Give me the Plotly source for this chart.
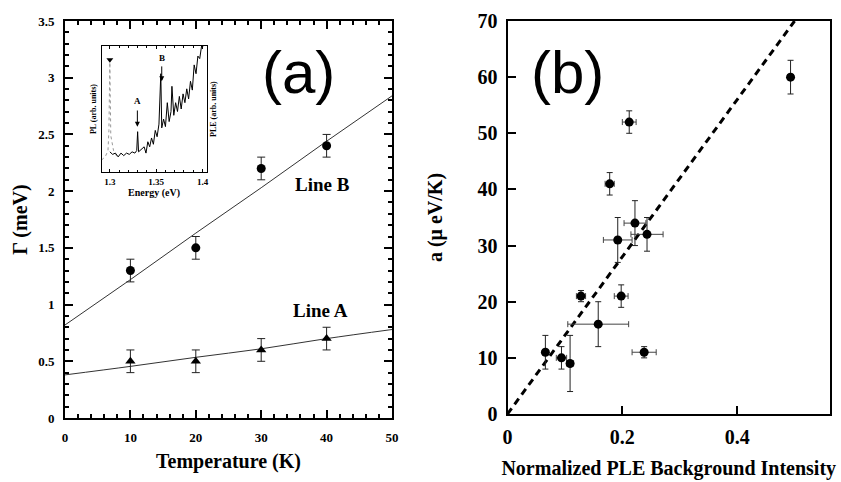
import plotly.graph_objects as go

# ---------------- Panel (a) data ----------------
temp = [10, 20, 30, 40]
gamma_B = [1.3, 1.5, 2.2, 2.4]
err_B = [0.1, 0.1, 0.1, 0.1]
gamma_A = [0.5, 0.5, 0.6, 0.7]
err_A = [0.1, 0.1, 0.1, 0.1]
fit_T = [0, 10, 20, 30, 40, 50]
fit_B = [0.82, 1.22, 1.63, 2.03, 2.44, 2.84]
fit_A = [0.38, 0.455, 0.535, 0.61, 0.70, 0.78]

# ---------------- Inset data ----------------
pl_E = [1.291, 1.295, 1.298, 1.299, 1.2995, 1.300, 1.3005, 1.301, 1.302, 1.304, 1.307, 1.310]
pl_I = [0.095, 0.12, 0.17, 0.33, 0.60, 0.87, 0.60, 0.29, 0.25, 0.17, 0.13, 0.12]
ple_E = [1.300, 1.303, 1.306, 1.309, 1.312, 1.315, 1.318, 1.321, 1.324, 1.327, 1.329,
         1.330, 1.331, 1.334, 1.337, 1.339, 1.341, 1.343, 1.345, 1.347, 1.349, 1.351,
         1.353, 1.355, 1.356, 1.358, 1.360, 1.362, 1.364, 1.366, 1.367, 1.369, 1.371,
         1.373, 1.375, 1.377, 1.379, 1.381, 1.383, 1.385, 1.387, 1.389, 1.391, 1.393,
         1.395, 1.397, 1.399, 1.401]
ple_I = [0.16, 0.14, 0.15, 0.12, 0.15, 0.13, 0.15, 0.14, 0.16, 0.15, 0.17,
         0.32, 0.16, 0.18, 0.20, 0.15, 0.24, 0.20, 0.27, 0.22, 0.33, 0.28,
         0.38, 0.78, 0.35, 0.42, 0.36, 0.55, 0.40, 0.48, 0.68, 0.45, 0.55,
         0.48, 0.60, 0.50, 0.62, 0.55, 0.66, 0.58, 0.72, 0.65, 0.85, 0.78,
         0.92, 0.90, 1.00, 1.00]
inset_xticks = [1.3, 1.35, 1.4]
inset_xtext = ["1.3", "1.35", "1.4"]

# ---------------- Panel (b) data ----------------
bg = [0.066, 0.094, 0.109, 0.128, 0.158, 0.178, 0.192, 0.198, 0.212, 0.222, 0.243, 0.238, 0.493]
a_val = [11, 10, 9, 21, 16, 41, 31, 21, 52, 34, 32, 11, 60]
bg_err = [0.004, 0.009, 0.006, 0.008, 0.053, 0.008, 0.025, 0.012, 0.012, 0.019, 0.028, 0.021, 0.005]
a_err = [3, 2, 5, 1, 4, 2, 4, 2, 2, 4, 3, 1, 3]
fit_bg = [0, 0.5]
fit_a = [0, 70]

a_yticks = [0, 0.5, 1, 1.5, 2, 2.5, 3, 3.5]
a_ytext = ["0", "0.5", "1", "1.5", "2", "2.5", "3", "3.5"]
b_xticks = [0, 0.2, 0.4]
b_xtext = ["0", "0.2", "0.4"]

SERIF = "Liberation Serif"
SANS = "Liberation Sans"
W, H = 841, 482

def px_x(p):
    return p / W

def px_y(p):
    return 1 - p / H

fig = go.Figure()

# Panel (a)
fig.add_trace(go.Scatter(x=fit_T, y=fit_B, mode="lines", line=dict(color="#333", width=1),
                         xaxis="x", yaxis="y", showlegend=False))
fig.add_trace(go.Scatter(x=fit_T, y=fit_A, mode="lines", line=dict(color="#333", width=1, shape="spline"),
                         xaxis="x", yaxis="y", showlegend=False))
fig.add_trace(go.Scatter(x=temp, y=gamma_B, mode="markers",
                         marker=dict(symbol="circle", size=9, color="black"),
                         error_y=dict(type="data", array=err_B, color="#222", thickness=1, width=4),
                         xaxis="x", yaxis="y", showlegend=False))
fig.add_trace(go.Scatter(x=temp, y=gamma_A, mode="markers",
                         marker=dict(symbol="triangle-up", size=9, color="black"),
                         error_y=dict(type="data", array=err_A, color="#222", thickness=1, width=4),
                         xaxis="x", yaxis="y", showlegend=False))

# Inset
fig.add_trace(go.Scatter(x=pl_E, y=pl_I, mode="lines", line=dict(color="#999", width=1, dash="dot"),
                         xaxis="x3", yaxis="y3", showlegend=False))
fig.add_trace(go.Scatter(x=ple_E, y=ple_I, mode="lines", line=dict(color="black", width=1),
                         xaxis="x3", yaxis="y3", showlegend=False))
fig.add_trace(go.Scatter(x=[1.300], y=[0.89], mode="markers",
                         marker=dict(symbol="triangle-down", size=6, color="black"),
                         xaxis="x3", yaxis="y3", showlegend=False))

# Panel (b)
fig.add_trace(go.Scatter(x=fit_bg, y=fit_a, mode="lines", line=dict(color="black", width=3, dash="7px,5px"),
                         xaxis="x2", yaxis="y2", showlegend=False))
fig.add_trace(go.Scatter(x=bg, y=a_val, mode="markers",
                         marker=dict(symbol="circle", size=9, color="black"),
                         error_y=dict(type="data", array=a_err, color="#222", thickness=1, width=3),
                         error_x=dict(type="data", array=bg_err, color="#444", thickness=1, width=3),
                         xaxis="x2", yaxis="y2", showlegend=False))

tick_font_a = dict(family=SERIF, size=13, color="black", weight="bold")
tick_font_b = dict(family=SERIF, size=20, color="black", weight="bold")
title_font = dict(family=SERIF, size=20, color="black", weight="bold")

fig.update_layout(
    width=W, height=H, margin=dict(l=0, r=0, t=0, b=0),
    paper_bgcolor="white", plot_bgcolor="white",
    xaxis=dict(domain=[px_x(65), px_x(392)], anchor="y", range=[0, 50],
               tickvals=[0, 10, 20, 30, 40, 50], ticks="inside", ticklen=8, tickwidth=1.5,
               tickcolor="black", minor=dict(dtick=2, ticklen=4, ticks="inside", tickcolor="black", tickwidth=1.5),
               mirror="allticks", showline=True, linecolor="black", linewidth=2,
               showgrid=False, zeroline=False, tickfont=tick_font_a, ticklabelstandoff=6,
               title=dict(text="Temperature (K)", font=title_font, standoff=10), automargin=False),
    yaxis=dict(domain=[px_y(418), px_y(21)], anchor="x", range=[0, 3.5],
               tickvals=a_yticks, ticktext=a_ytext, ticks="inside", ticklen=8, tickwidth=1.5,
               tickcolor="black", minor=dict(dtick=0.1, ticklen=4, ticks="inside", tickcolor="black", tickwidth=1.5),
               mirror="allticks", showline=True, linecolor="black", linewidth=2,
               showgrid=False, zeroline=False, tickfont=tick_font_a, ticklabelstandoff=6,
               title=dict(text="Γ (meV)", font=title_font, standoff=5), automargin=False),
    xaxis2=dict(domain=[px_x(507.5), px_x(830)], anchor="y2", range=[0, 0.5617],
                tickvals=b_xticks, ticktext=b_xtext, ticks="inside", ticklen=8, tickwidth=1.5,
                tickcolor="black", mirror=True, showline=True, linecolor="black", linewidth=2,
                showgrid=False, zeroline=False, tickfont=tick_font_b, ticklabelstandoff=4,
                title=dict(text="Normalized PLE Background Intensity", font=title_font, standoff=14),
                automargin=False),
    yaxis2=dict(domain=[px_y(414), px_y(21)], anchor="x2", range=[0, 70],
                tickvals=[0, 10, 20, 30, 40, 50, 60, 70], ticks="inside", ticklen=8, tickwidth=1.5,
                tickcolor="black", mirror=True, showline=True, linecolor="black", linewidth=2,
                showgrid=False, zeroline=False, tickfont=tick_font_b, ticklabelstandoff=4,
                title=dict(text="a (μ eV/K)", font=title_font, standoff=30), automargin=False),
    xaxis3=dict(domain=[px_x(101.5), px_x(206.5)], anchor="y3", range=[1.291, 1.4043],
                tickvals=inset_xticks, ticktext=inset_xtext, ticks="inside", ticklen=3, tickwidth=1,
                tickcolor="black", minor=dict(dtick=0.01, ticklen=2, ticks="inside", tickcolor="black"),
                mirror="allticks", showline=True, linecolor="black", linewidth=1,
                showgrid=False, zeroline=False,
                tickfont=dict(family=SERIF, size=9, color="black", weight="bold"), ticklabelstandoff=1,
                title=dict(text="Energy (eV)", font=dict(family=SERIF, size=10, color="black", weight="bold"),
                           standoff=0), automargin=False),
    yaxis3=dict(domain=[px_y(172), px_y(46)], anchor="x3", range=[0, 1.0],
                showticklabels=False, ticks="", mirror=True, showline=True, linecolor="black", linewidth=1,
                showgrid=False, zeroline=False,
                title=dict(text="PL (arb. units)", font=dict(family=SERIF, size=8, color="black", weight="bold"),
                           standoff=2), automargin=False),
    annotations=[
        dict(text="(a)", x=px_x(298), y=px_y(72), xref="paper", yref="paper", showarrow=False,
             font=dict(family=SANS, size=60, color="black"), xanchor="center", yanchor="middle"),
        dict(text="(b)", x=px_x(567), y=px_y(72), xref="paper", yref="paper", showarrow=False,
             font=dict(family=SANS, size=60, color="black"), xanchor="center", yanchor="middle"),
        dict(text="Line B", x=px_x(322), y=px_y(184), xref="paper", yref="paper", showarrow=False,
             font=dict(family=SERIF, size=19, color="black", weight="bold"), xanchor="center", yanchor="middle"),
        dict(text="Line A", x=px_x(320), y=px_y(310), xref="paper", yref="paper", showarrow=False,
             font=dict(family=SERIF, size=19, color="black", weight="bold"), xanchor="center", yanchor="middle"),
        dict(text="PLE (arb. units)", x=px_x(214), y=px_y(109), xref="paper", yref="paper", showarrow=False,
             textangle=-90, font=dict(family=SERIF, size=8, color="black", weight="bold"),
             xanchor="center", yanchor="middle"),
        dict(text="B", x=1.356, y=0.905, xref="x3", yref="y3", showarrow=False,
             font=dict(family=SERIF, size=9, color="black", weight="bold")),
        dict(text="A", x=1.3297, y=0.56, xref="x3", yref="y3", showarrow=False,
             font=dict(family=SERIF, size=9, color="black", weight="bold")),
        dict(text="", x=1.356, y=0.72, ax=1.356, ay=0.85, xref="x3", yref="y3", axref="x3", ayref="y3",
             showarrow=True, arrowhead=2, arrowsize=1, arrowwidth=1, arrowcolor="black"),
        dict(text="", x=1.3297, y=0.36, ax=1.3297, ay=0.50, xref="x3", yref="y3", axref="x3", ayref="y3",
             showarrow=True, arrowhead=2, arrowsize=1, arrowwidth=1, arrowcolor="black"),
    ],
)

fig.write_html("out.html")
